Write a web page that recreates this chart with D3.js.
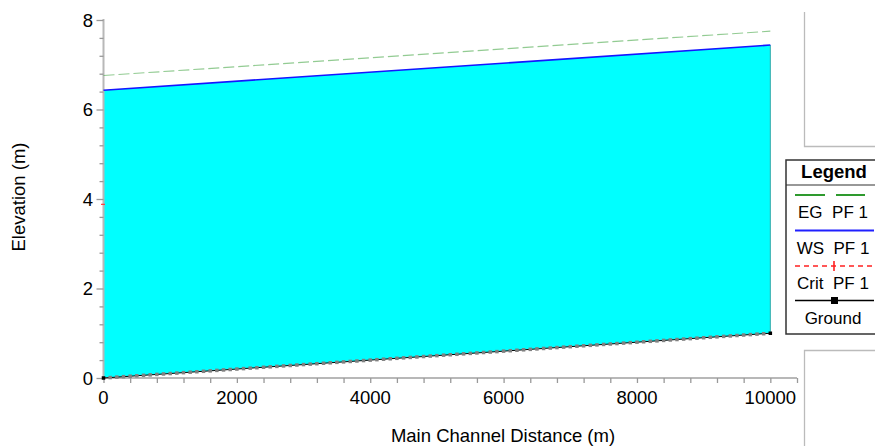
<!DOCTYPE html>
<html>
<head>
<meta charset="utf-8">
<script src="https://cdn.jsdelivr.net/npm/d3@7"></script>
<style>
  body { margin: 0; background: #fff; }
  svg { display: block; font-family: "Liberation Sans", Arial, sans-serif; }
</style>
</head>
<body>
<svg id="chart" width="875" height="446"></svg>
<script>
// profile endpoints (main channel distance, elevation)
var stations = [0, 10000]
var egPF1 = [6.76, 7.75]
var wsPF1 = [6.43, 7.44]
var critPF1 = [3.88, 4.88]
var ground = [0.0, 1.0]
var xTicks = [0, 2000, 4000, 6000, 8000, 10000]
var yTicks = [0, 2, 4, 6, 8]
var legendItems = ['EG  PF 1', 'WS  PF 1', 'Crit  PF 1', 'Ground']

var svg = d3.select('#chart')
var x = d3.scaleLinear().domain([0, 10400]).range([103.5, 797])
var y = d3.scaleLinear().domain([0, 8]).range([378, 20])

var pts = function(vals) {
  return stations.map(function(s, i) { return [s, vals[i]] })
}
var line = d3.line().x(function(d) { return x(d[0]) }).y(function(d) { return y(d[1]) })

// crit line sits under the water fill
svg.append('path')
  .attr('d', line(pts(critPF1)))
  .attr('fill', 'none').attr('stroke', '#ff2020').attr('stroke-width', 1.2)
  .attr('stroke-dasharray', '4,3')
  .attr('transform', 'translate(-1,0)')

// water fill between ground and WS
var area = d3.area()
  .x(function(d) { return x(d[0]) })
  .y0(function(d) { return y(d[1]) })
  .y1(function(d) { return y(d[2]) })
svg.append('path')
  .datum(stations.map(function(s, i) { return [s, ground[i], wsPF1[i]] }))
  .attr('d', area)
  .attr('fill', '#00ffff')
svg.append('line')
  .attr('x1', x(10000)).attr('x2', x(10000))
  .attr('y1', y(wsPF1[1])).attr('y2', y(ground[1]))
  .attr('stroke', '#33aaaa').attr('stroke-width', 1)

// axes
var xAxis = d3.axisBottom(x).tickValues(d3.range(0, 10401, 400)).tickSize(5).tickFormat('')
var gx = svg.append('g').attr('transform', 'translate(0,378)').call(xAxis)
gx.selectAll('text').remove()
gx.selectAll('line').attr('stroke', '#999').attr('stroke-width', 1.3)
gx.select('.domain').attr('stroke', '#b8b8b8').attr('stroke-width', 2).attr('d', 'M103,0H797')
svg.selectAll('.xlab').data(xTicks).enter().append('text')
  .attr('x', function(d) { return x(d) }).attr('y', 404)
  .attr('text-anchor', 'middle').attr('font-size', 18.5).attr('fill', '#000')
  .text(function(d) { return d })

var yAxis = d3.axisLeft(y).tickValues(d3.range(0, 8.01, 0.4)).tickSize(4).tickFormat('')
var gy = svg.append('g').attr('transform', 'translate(103.5,0)').call(yAxis)
gy.selectAll('line').attr('stroke', '#999').attr('stroke-width', 1.3)
  .attr('x2', function(d) { return Math.abs(d / 2 - Math.round(d / 2)) < 1e-6 ? -7 : -4 })
gy.select('.domain').attr('stroke', '#b8b8b8').attr('stroke-width', 2).attr('d', 'M0,19V378')
svg.selectAll('.ylab').data(yTicks).enter().append('text')
  .attr('x', 93).attr('y', function(d) { return y(d) + 6.5 })
  .attr('text-anchor', 'end').attr('font-size', 18.5).attr('fill', '#000')
  .text(function(d) { return d })

// red crit tick poking over the axis
svg.append('line')
  .attr('x1', 101).attr('x2', 105).attr('y1', y(critPF1[0])).attr('y2', y(critPF1[0]))
  .attr('stroke', '#ff4040').attr('stroke-width', 1.2)

// EG and WS lines
svg.append('path').attr('d', line(pts(egPF1)))
  .attr('fill', 'none').attr('stroke', '#4aa84a').attr('stroke-opacity', 0.6)
  .attr('stroke-width', 1.2).attr('stroke-dasharray', '11,4')
svg.append('path').attr('d', line(pts(wsPF1)))
  .attr('fill', 'none').attr('stroke', '#1515ff').attr('stroke-width', 1.6)

// ground line with cross-section markers
svg.append('path').attr('d', line(pts(ground)))
  .attr('fill', 'none').attr('stroke', '#000').attr('stroke-width', 1)
var xs = d3.range(100, 10000, 100)
var gScale = d3.scaleLinear().domain(stations).range(ground)
svg.selectAll('.xs').data(xs).enter().append('rect')
  .attr('x', function(d) { return x(d) - 1.75 }).attr('y', function(d) { return y(gScale(d)) - 1.75 })
  .attr('width', 3.5).attr('height', 3.5).attr('fill', '#808080')
svg.selectAll('.xsend').data(stations).enter().append('rect')
  .attr('x', function(d) { return x(d) - 1.75 }).attr('y', function(d, i) { return y(ground[i]) - 1.75 })
  .attr('width', 3.5).attr('height', 3.5).attr('fill', '#000')

// axis titles
svg.append('text').attr('x', 503).attr('y', 442).attr('text-anchor', 'middle')
  .attr('font-size', 18.5).text('Main Channel Distance (m)')
svg.append('text').attr('transform', 'translate(25,197) rotate(-90)').attr('text-anchor', 'middle')
  .attr('font-size', 18.5).text('Elevation (m)')

// frame lines to the right
svg.append('path').attr('d', 'M804.5,12V146.5H875').attr('fill', 'none').attr('stroke', '#bbb').attr('stroke-width', 1.3)
svg.append('path').attr('d', 'M875,350.5H804.5V446').attr('fill', 'none').attr('stroke', '#bbb').attr('stroke-width', 1.3)

// legend
var lg = svg.append('g')
lg.append('rect').attr('x', 786).attr('y', 160).attr('width', 100).attr('height', 174)
  .attr('fill', '#fff').attr('stroke', '#333').attr('stroke-width', 1.5)
lg.append('line').attr('x1', 786).attr('x2', 875).attr('y1', 185).attr('y2', 185)
  .attr('stroke', '#333').attr('stroke-width', 1.2)
lg.append('text').attr('x', 834).attr('y', 178).attr('text-anchor', 'middle')
  .attr('font-size', 18.5).attr('font-weight', 'bold').text('Legend')
var rowY = [195, 230.5, 266, 300.5]
lg.selectAll('.lt').data(legendItems).enter().append('text')
  .attr('x', 833).attr('y', function(d, i) { return rowY[i] + 23 })
  .attr('text-anchor', 'middle').attr('font-size', 17).attr('xml:space', 'preserve')
  .text(function(d) { return d })
lg.append('path').attr('d', 'M795,195H825M836,195H865').attr('stroke', '#2e9a2e').attr('stroke-width', 2)
lg.append('line').attr('x1', 795).attr('x2', 874).attr('y1', 230.5).attr('y2', 230.5)
  .attr('stroke', '#2020ff').attr('stroke-width', 2)
lg.append('line').attr('x1', 795).attr('x2', 872).attr('y1', 266).attr('y2', 266)
  .attr('stroke', '#ff2020').attr('stroke-width', 1.6).attr('stroke-dasharray', '5,4')
lg.append('path').attr('d', 'M834,261V271').attr('stroke', '#ff2020').attr('stroke-width', 1.6)
lg.append('line').attr('x1', 795).attr('x2', 874).attr('y1', 300.5).attr('y2', 300.5)
  .attr('stroke', '#000').attr('stroke-width', 1.3)
lg.append('rect').attr('x', 831).attr('y', 297).attr('width', 7).attr('height', 7).attr('fill', '#000')
</script>
</body>
</html>
